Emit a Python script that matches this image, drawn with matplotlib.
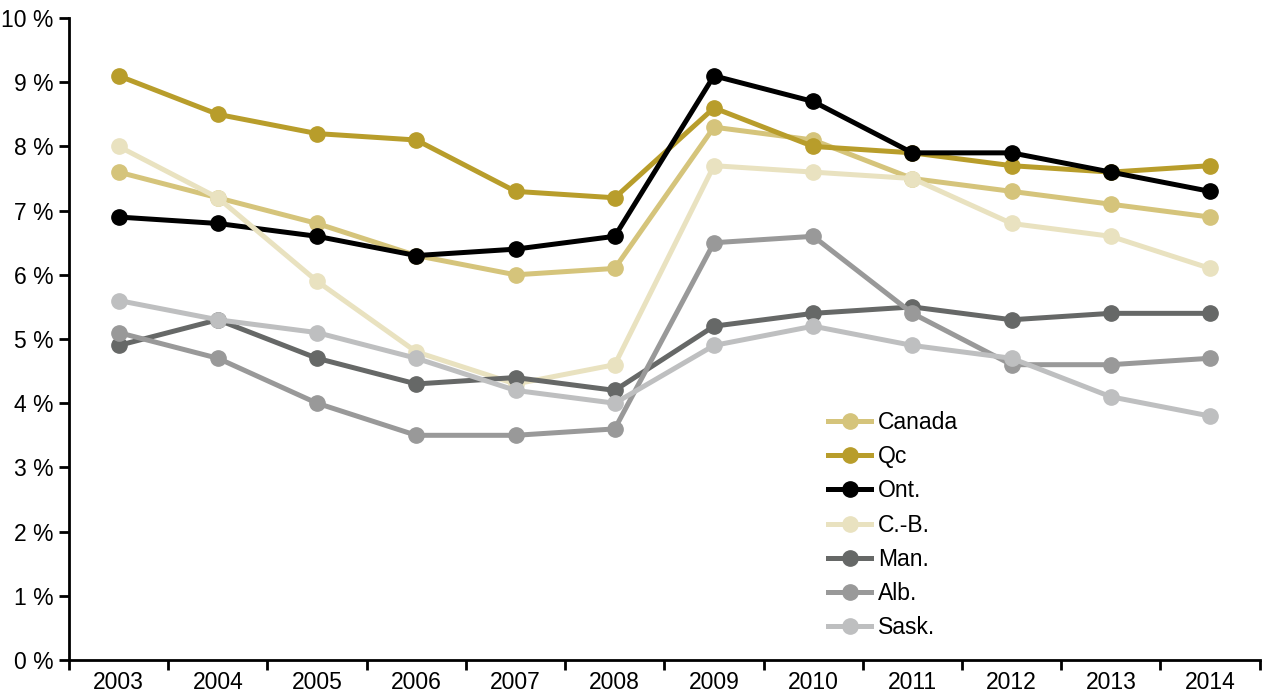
import matplotlib.pyplot as plt
from matplotlib.ticker import FuncFormatter

years = [2003, 2004, 2005, 2006, 2007, 2008, 2009, 2010, 2011, 2012, 2013, 2014]

canada = [7.6, 7.2, 6.8, 6.3, 6.0, 6.1, 8.3, 8.1, 7.5, 7.3, 7.1, 6.9]
qc = [9.1, 8.5, 8.2, 8.1, 7.3, 7.2, 8.6, 8.0, 7.9, 7.7, 7.6, 7.7]
ont = [6.9, 6.8, 6.6, 6.3, 6.4, 6.6, 9.1, 8.7, 7.9, 7.9, 7.6, 7.3]
cb = [8.0, 7.2, 5.9, 4.8, 4.3, 4.6, 7.7, 7.6, 7.5, 6.8, 6.6, 6.1]
man = [4.9, 5.3, 4.7, 4.3, 4.4, 4.2, 5.2, 5.4, 5.5, 5.3, 5.4, 5.4]
alb = [5.1, 4.7, 4.0, 3.5, 3.5, 3.6, 6.5, 6.6, 5.4, 4.6, 4.6, 4.7]
sask = [5.6, 5.3, 5.1, 4.7, 4.2, 4.0, 4.9, 5.2, 4.9, 4.7, 4.1, 3.8]

labels = ["Canada", "Qc", "Ont.", "C.-B.", "Man.", "Alb.", "Sask."]
series = [canada, qc, ont, cb, man, alb, sask]
colors = ["#D5C47B", "#B89D2B", "#000000", "#E9E2C0", "#666867", "#999999", "#BEBFC0"]

plt.rcParams['font.family'] = ['Liberation Sans', 'DejaVu Sans']

fig = plt.figure(figsize=(12.64, 6.94), dpi=100)
ax = fig.add_axes([0.0546, 0.049, 0.942, 0.925])

x = list(range(len(years)))
for vals, lab, col in zip(series, labels, colors):
    ax.plot(x, vals, color=col, lw=3.6, marker='o', ms=11, label=lab)

ax.set_xlim(-0.5, len(years) - 0.5)
ax.set_ylim(0, 10)
ax.set_yticks(range(0, 11))
ax.yaxis.set_major_formatter(FuncFormatter(lambda v, p: f"{int(v)} %"))

# category labels centered, ticks at boundaries
ax.set_xticks([i - 0.5 for i in range(len(years) + 1)])
ax.set_xticklabels([])
ax.set_xticks(x, minor=True)
ax.set_xticklabels([str(y) for y in years], minor=True)
ax.tick_params(axis='x', which='minor', length=0, labelsize=16.5, pad=8)
ax.tick_params(axis='x', which='major', length=7, width=2, direction='out')
ax.tick_params(axis='y', length=7, width=2, labelsize=16.5, pad=4)

for s in ['top', 'right']:
    ax.spines[s].set_visible(False)
for s in ['left', 'bottom']:
    ax.spines[s].set_linewidth(2)

leg = ax.legend(loc='upper left', bbox_to_anchor=(0.62, 0.42), frameon=False,
                fontsize=16.5, handlelength=1.9, labelspacing=0.49, handletextpad=0.3)

fig.savefig("out.png", dpi=100)
